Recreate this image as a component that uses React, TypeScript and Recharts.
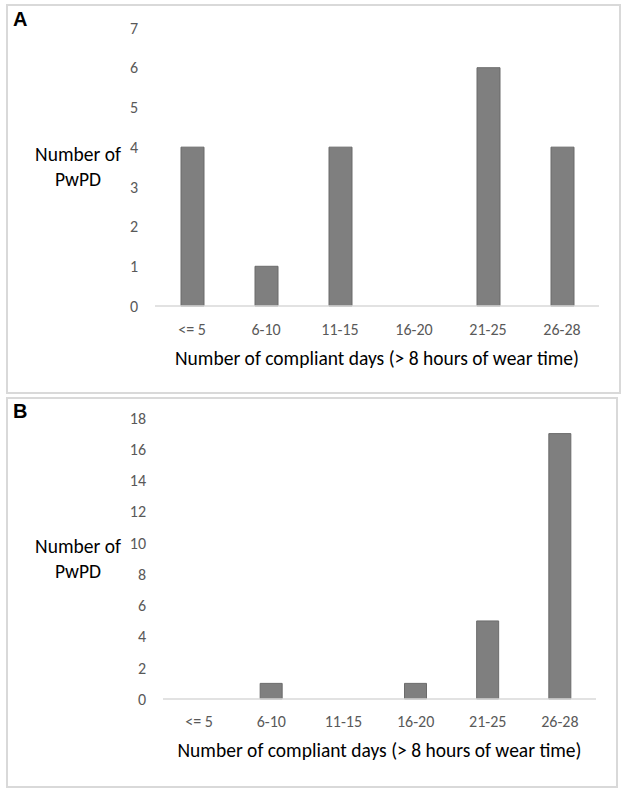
import React from 'react'
import { BarChart, Bar, XAxis, YAxis } from 'recharts'

const categories = ['<= 5', '6-10', '11-15', '16-20', '21-25', '26-28']
const panelACounts = [4, 1, 4, 0, 6, 4]
const panelBCounts = [0, 1, 0, 1, 5, 17]
const panelATicks = [0, 1, 2, 3, 4, 5, 6, 7]
const panelBTicks = [0, 2, 4, 6, 8, 10, 12, 14, 16, 18]

const xTitle = 'Number of compliant days (> 8 hours of wear time)'
const font = 'Calibri, Carlito, Lato, sans-serif'

const dataA = categories.map((c, i) => ({ range: c, count: panelACounts[i] }))
const dataB = categories.map((c, i) => ({ range: c, count: panelBCounts[i] }))

const panelBox = (top: number, height: number, width: number): React.CSSProperties => ({
  position: 'absolute',
  left: 6,
  top,
  width,
  height,
  border: '2px solid #d9d9d9',
  boxSizing: 'border-box',
})

const letter = (top: number): React.CSSProperties => ({
  position: 'absolute',
  left: 13,
  top,
  fontFamily: 'Arial, "Liberation Sans", sans-serif',
  fontWeight: 700,
  fontSize: 20,
  color: '#000',
})

const yTitle = (top: number): React.CSSProperties => ({
  position: 'absolute',
  left: 23,
  top,
  width: 110,
  textAlign: 'center',
  fontFamily: font,
  fontSize: 19.5,
  lineHeight: '25px',
  color: '#000',
})

const XTick = (props: any) => {
  const { x, y, payload } = props
  return (
    <text x={x} y={y} dy="0.71em" textAnchor="middle" fill="#595959" fontSize={16} fontFamily={font}>
      {payload.value}
    </text>
  )
}

const YTick = (props: any) => {
  const { x, y, payload } = props
  return (
    <text x={x} y={y} dy="0.36em" textAnchor="end" fill="#595959" fontSize={16} fontFamily={font}>
      {payload.value}
    </text>
  )
}

const App = () => {
  return (
    <div style={{ position: 'absolute', left: 0, top: 0, width: 624, height: 790, background: '#fff' }}>
      <div style={panelBox(4, 390, 615)} />
      <div style={panelBox(397, 391, 612)} />
      <div style={letter(8)}>A</div>
      <div style={letter(400)}>B</div>
      <div style={yTitle(142)}>Number of<br />PwPD</div>
      <div style={yTitle(534)}>Number of<br />PwPD</div>

      <div style={{ position: 'absolute', left: 0, top: 0 }}>
        <BarChart width={624} height={400} data={dataA} margin={{ top: 28, right: 25, bottom: 64, left: 115 }} barSize={23}>
          <XAxis
            dataKey="range"
            height={30}
            tickLine={false}
            tickMargin={12}
            axisLine={{ stroke: '#d9d9d9', strokeWidth: 1.5 }}
            tick={<XTick />}
            interval={0}
            label={{ value: xTitle, position: 'bottom', offset: 15, fill: '#000', fontSize: 19.5, fontFamily: font }}
          />
          <YAxis
            width={40}
            domain={[0, 7]}
            ticks={panelATicks}
            axisLine={false}
            tickLine={false}
            tickMargin={11}
            tick={<YTick />}
          />
          <Bar dataKey="count" fill="#7f7f7f" stroke="#6b6b6b" strokeWidth={1} isAnimationActive={false} />
        </BarChart>
      </div>

      <div style={{ position: 'absolute', left: 0, top: 390 }}>
        <BarChart width={624} height={400} data={dataB} margin={{ top: 28, right: 28, bottom: 61, left: 123 }} barSize={22}>
          <XAxis
            dataKey="range"
            height={30}
            tickLine={false}
            tickMargin={11}
            axisLine={{ stroke: '#d9d9d9', strokeWidth: 1.5 }}
            tick={<XTick />}
            interval={0}
            label={{ value: xTitle, position: 'bottom', offset: 14, fill: '#000', fontSize: 19.5, fontFamily: font }}
          />
          <YAxis
            width={40}
            domain={[0, 18]}
            ticks={panelBTicks}
            axisLine={false}
            tickLine={false}
            tickMargin={11}
            tick={<YTick />}
          />
          <Bar dataKey="count" fill="#7f7f7f" stroke="#6b6b6b" strokeWidth={1} isAnimationActive={false} />
        </BarChart>
      </div>
    </div>
  )
}

export default App
